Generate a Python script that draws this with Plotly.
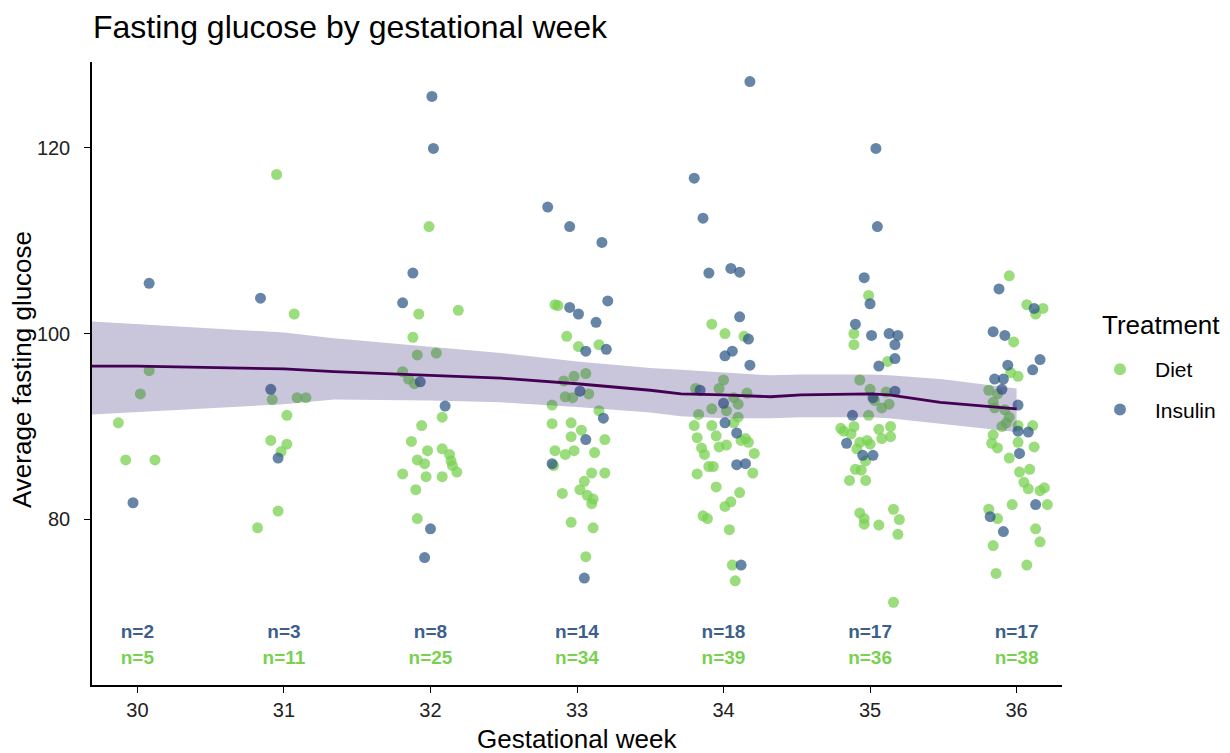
import plotly.graph_objects as go

# ---------------- data ----------------
weeks = [30, 31, 32, 33, 34, 35, 36]
n_insulin = [2, 3, 8, 14, 18, 17, 17]
n_diet = [5, 11, 25, 34, 39, 36, 38]

# jittered gestational week (as plotted) and average fasting glucose
diet_x = [
    30.08, 30.02, 29.87, 29.92, 30.12,
    31.07, 30.92, 31.09, 31.15, 31.02, 30.91, 31.02, 30.98, 30.96, 30.82, 30.95,
    31.99, 31.92, 32.19, 31.88, 31.91, 32.04, 31.81, 31.85, 31.89, 32.08, 31.94, 31.87, 31.98,
    32.08, 32.13, 31.91, 31.96, 32.14, 32.15, 32.18, 31.81, 31.97, 32.08, 31.90, 31.91,
    32.85, 32.87, 32.93, 33.01, 33.15, 32.91, 32.98, 33.06, 32.92, 32.97, 32.83, 33.15, 32.83,
    32.96, 32.96, 33.19, 32.85, 32.92, 32.98, 33.12, 32.84, 33.10, 33.19, 32.90, 33.02, 33.07,
    33.11, 33.10, 32.96, 33.11, 33.06, 33.03, 33.05, 33.08,
    33.92, 34.01, 34.14, 33.81, 33.97, 34.07, 34.16, 33.92, 34.02, 33.83, 34.10, 33.80, 33.92,
    34.07, 33.82, 34.15, 33.85, 33.87, 33.97, 34.02, 34.12, 34.17, 34.21, 33.90, 33.93, 34.20,
    33.82, 33.95, 34.11, 34.05, 34.01, 33.86, 33.89, 34.04, 34.06, 34.08, 34.00, 34.10, 33.95,
    34.99, 34.89, 34.89, 35.12, 34.93, 35.11, 35.03, 35.13, 34.99, 34.80, 34.89, 34.87, 35.06,
    35.14, 35.14, 35.08, 34.98, 34.93, 35.00, 34.91, 34.97, 34.90, 34.94, 34.86, 34.97, 34.93,
    34.96, 34.96, 35.06, 35.16, 35.20, 35.19, 35.16, 34.82, 35.08, 35.00,
    35.95, 36.07, 36.18, 36.13, 35.98, 35.96, 36.01, 35.81, 35.87, 35.84, 35.92, 35.95, 35.93,
    36.01, 36.11, 35.84, 35.83, 36.01, 35.87, 36.12, 35.95, 36.02, 36.09, 36.08, 36.16, 36.19,
    35.97, 36.21, 35.81, 35.87, 36.13, 36.16, 35.84, 36.07, 35.86, 35.85, 35.90, 36.05,
]
diet_y = [
    96.0, 93.5, 90.4, 86.4, 86.4,
    102.1, 92.9, 93.1, 93.1, 91.2, 88.5, 88.1, 87.3, 80.9, 79.1, 117.1,
    111.5, 102.1, 102.5, 99.6, 97.7, 97.9, 95.9, 95.1, 94.6, 91.0, 90.1, 88.4, 87.4,
    87.6, 87.0, 86.4, 86.0, 86.3, 85.8, 85.1, 84.9, 84.6, 84.6, 83.2, 80.1,
    103.1, 103.0, 99.7, 98.6, 98.8, 94.9, 95.4, 95.7, 93.2, 93.1, 92.3, 91.7, 90.3,
    90.4, 88.9, 88.6, 87.4, 87.0, 87.4, 87.2, 85.8, 85.0, 85.0, 82.8, 83.2, 82.6,
    82.2, 81.7, 79.7, 79.1, 76.0, 89.6, 84.1, 93.5,
    101.0, 100.0, 99.7, 94.1, 94.1, 93.1, 93.6, 91.9, 91.7, 91.3, 91.0, 90.1, 90.1,
    90.4, 88.8, 88.7, 87.7, 87.0, 87.8, 88.0, 88.5, 88.3, 87.1, 85.7, 85.7, 85.0,
    84.9, 83.5, 82.9, 81.9, 81.4, 80.4, 80.1, 78.9, 75.1, 73.4, 95.0, 92.4, 89.0,
    104.1, 100.0, 98.8, 97.0, 95.0, 93.7, 92.8, 92.4, 91.2, 89.8, 90.0, 89.2, 89.7,
    90.0, 88.9, 88.7, 88.5, 88.3, 88.1, 87.6, 86.3, 85.4, 85.3, 84.2, 84.2, 80.7,
    79.5, 80.1, 79.4, 81.1, 80.0, 78.4, 71.1, 89.5, 92.0, 94.0,
    106.2, 103.1, 102.7, 102.1, 99.1, 95.8, 95.4, 93.9, 93.5, 92.6, 91.8, 91.0, 90.4,
    90.1, 90.1, 89.1, 88.2, 88.3, 87.7, 87.8, 86.6, 85.1, 85.4, 83.3, 83.1, 83.4,
    81.6, 81.6, 81.1, 80.1, 79.0, 77.6, 77.2, 75.1, 74.2, 92.0, 90.0, 84.0,
]

insulin_x = [
    30.08, 29.97,
    30.84, 30.91, 30.96,
    32.01, 32.02, 31.88, 31.81, 31.93, 32.10, 32.00, 31.96,
    32.80, 32.95, 33.17, 33.21, 32.95, 33.01, 33.13, 33.06, 33.20, 33.18, 33.06, 32.83, 33.05, 33.02,
    34.18, 33.80, 33.86, 33.90, 34.05, 34.11, 34.11, 34.17, 34.06, 34.01, 34.18, 33.84, 34.00,
    34.01, 34.09, 34.09, 34.15, 34.12,
    35.04, 35.05, 34.96, 35.00, 34.90, 35.01, 35.13, 35.19, 35.17, 35.17, 35.06, 35.17, 35.02,
    34.88, 34.84, 34.95, 35.02,
    35.88, 36.12, 35.84, 35.92, 36.16, 36.11, 35.94, 35.85, 35.91, 36.01, 36.01, 36.08, 36.02,
    36.13, 35.82, 35.91, 35.90,
]
insulin_y = [
    105.4, 81.8,
    103.8, 94.0, 86.6,
    125.5, 119.9, 106.5, 103.3, 94.8, 92.2, 79.0, 75.9,
    113.6, 111.5, 109.8, 103.5, 102.8, 102.1, 101.2, 98.1, 98.3, 90.9, 88.6, 86.0, 73.7, 93.8,
    127.1, 116.7, 112.4, 106.5, 107.0, 106.6, 101.8, 99.4, 98.1, 97.6, 96.6, 93.9, 92.5,
    90.4, 89.3, 85.9, 86.0, 75.1,
    119.9, 111.5, 106.0, 103.2, 101.0, 99.8, 100.0, 99.8, 98.8, 97.3, 96.5, 93.8, 93.1,
    91.2, 88.2, 86.9, 86.9,
    104.8, 102.7, 100.2, 99.8, 97.2, 96.1, 96.6, 95.1, 95.1, 92.3, 89.5, 89.4, 87.1,
    81.6, 80.3, 78.7, 94.0,
]

# smoothed trend with confidence band
smooth_x = [29.69, 30.0, 31.0, 31.34, 32.0, 32.48, 33.0, 33.5, 33.71, 34.0, 34.32, 34.53, 35.0, 35.13, 35.48, 36.0]
smooth_y = [96.5, 96.5, 96.2, 95.9, 95.5, 95.2, 94.6, 93.9, 93.5, 93.4, 93.2, 93.4, 93.5, 93.4, 92.6, 91.9]
smooth_hi = [101.3, 101.0, 100.1, 99.5, 98.6, 97.9, 97.0, 96.3, 96.1, 95.8, 95.5, 95.6, 95.6, 95.5, 95.1, 94.1]
smooth_lo = [91.3, 91.6, 92.4, 92.9, 92.8, 92.6, 92.1, 91.5, 91.1, 90.9, 90.9, 91.0, 91.0, 90.9, 90.3, 89.4]

label_y_insulin = 67.8
label_y_diet = 65.0

DIET_COL = "rgba(122,209,81,0.75)"
INS_COL = "rgba(44,86,132,0.72)"
FONT = "Liberation Sans, Arial, sans-serif"

# page body has an 8px margin, so the figure is 8px smaller than the window
W, H = 1222, 745
PL, PR, PT, PB = 92, 1062, 62, 685   # plot area in page pixels


def px(x):
    return (x - PL) / (PR - PL)


def py(y):
    return (PB - y) / (PB - PT)


fig = go.Figure()

fig.add_trace(go.Scatter(
    x=diet_x, y=diet_y, mode="markers", name="Diet", legendgroup="d",
    marker=dict(size=11, color=DIET_COL, line=dict(width=0)),
))
fig.add_trace(go.Scatter(
    x=insulin_x, y=insulin_y, mode="markers", name="Insulin", legendgroup="i",
    marker=dict(size=11, color=INS_COL, line=dict(width=0)),
))

# confidence band (drawn over the points, translucent)
fig.add_trace(go.Scatter(
    x=smooth_x + smooth_x[::-1], y=smooth_hi + smooth_lo[::-1],
    fill="toself", fillcolor="rgba(62,45,125,0.28)", line=dict(width=0),
    mode="lines", hoverinfo="skip", showlegend=False,
))
fig.add_trace(go.Scatter(
    x=smooth_x, y=smooth_y, mode="lines", line=dict(color="#440154", width=2.8),
    showlegend=False,
))

# n labels
fig.add_trace(go.Scatter(
    x=weeks, y=[label_y_insulin] * len(weeks), mode="text",
    text=[f"<b>n={n}</b>" for n in n_insulin],
    textfont=dict(family=FONT, size=19, color="#3d5f8c"), showlegend=False, hoverinfo="skip",
))
fig.add_trace(go.Scatter(
    x=weeks, y=[label_y_diet] * len(weeks), mode="text",
    text=[f"<b>n={n}</b>" for n in n_diet],
    textfont=dict(family=FONT, size=19, color="#7ad151"), showlegend=False, hoverinfo="skip",
))

fig.add_annotation(text="Treatment", xref="paper", yref="paper",
                   x=px(1100), y=py(325), xanchor="left", yanchor="middle",
                   showarrow=False, font=dict(size=26, color="black", family=FONT))
fig.add_annotation(text="Gestational week", xref="paper", yref="paper",
                   x=px(577), y=py(739), xanchor="center", yanchor="middle",
                   showarrow=False, font=dict(size=26, color="black", family=FONT))
fig.add_annotation(text="Average fasting glucose", xref="paper", yref="paper",
                   x=px(22), y=py(370), xanchor="center", yanchor="middle", textangle=-90,
                   showarrow=False, font=dict(size=26, color="black", family=FONT))

fig.update_layout(
    width=W, height=H,
    paper_bgcolor="white", plot_bgcolor="white",
    margin=dict(l=PL - 8, r=W - (PR - 8), t=PT - 8, b=H - (PB - 8), autoexpand=False),
    font=dict(family=FONT, color="#222222"),
    title=dict(text="Fasting glucose by gestational week", x=85 / W, xanchor="left",
               y=1 - 19 / H, yanchor="middle", yref="container",
               font=dict(size=32, color="black", family=FONT)),
    xaxis=dict(range=[29.69, 36.31], tickvals=weeks, ticktext=[str(w) for w in weeks],
               automargin=False,
               showgrid=False, zeroline=False, showline=True, linecolor="black", linewidth=1.5,
               ticks="outside", ticklen=6, tickcolor="black", tickwidth=1.2,
               tickfont=dict(size=20, color="#222222")),
    yaxis=dict(range=[62.2, 129.2], tickvals=[80, 100, 120],
               automargin=False,
               showgrid=False, zeroline=False, showline=True, linecolor="black", linewidth=1.5,
               ticks="outside", ticklen=6, tickcolor="black", tickwidth=1.2,
               ticklabelstandoff=10,
               tickfont=dict(size=20, color="#222222")),
    legend=dict(x=px(1085), y=py(349), xanchor="left", yanchor="top",
                font=dict(size=21, color="black"), tracegroupgap=10, itemsizing="constant",
                itemwidth=60),
)

fig.write_html("out.html")
